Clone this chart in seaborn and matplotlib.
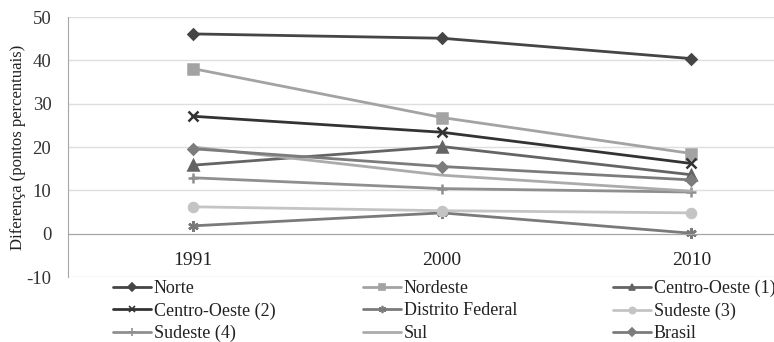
import matplotlib
matplotlib.use("Agg")
import matplotlib.pyplot as plt
from matplotlib.lines import Line2D
import seaborn as sns
import numpy as np

# Anos e diferenças (pontos percentuais) por região
anos = ["1991", "2000", "2010"]
norte = [46.1, 45.1, 40.4]
nordeste = [38.1, 26.8, 18.5]
centro_oeste_1 = [15.8, 20.1, 13.6]
centro_oeste_2 = [27.1, 23.4, 16.2]
distrito_federal = [1.8, 4.8, 0.1]
sudeste_3 = [6.2, 5.3, 4.8]
sudeste_4 = [12.9, 10.4, 9.6]
sul = [20.0, 13.5, 9.8]
brasil = [19.6, 15.5, 12.4]

series = [
    ("Norte", norte, "#454545", "D", 5.5),
    ("Nordeste", nordeste, "#a3a3a3", "s", 6.5),
    ("Centro-Oeste (1)", centro_oeste_1, "#646464", "^", 6.5),
    ("Centro-Oeste (2)", centro_oeste_2, "#333333", "x", 6.5),
    ("Distrito Federal", distrito_federal, "#7a7a7a", (6, 2, 0), 7.5),
    ("Sudeste (3)", sudeste_3, "#c4c4c4", "o", 6.5),
    ("Sudeste (4)", sudeste_4, "#8f8f8f", "+", 7.5),
    ("Sul", sul, "#ababab", None, 0),
    ("Brasil", brasil, "#7c7c7c", "D", 5.5),
]

sns.set_style("white")
plt.rcParams["font.family"] = ["Liberation Serif", "DejaVu Serif"]
plt.rcParams["axes.unicode_minus"] = False

W, H = 774, 342
fig = plt.figure(figsize=(W / 100, H / 100), dpi=100)
left, right, top, bottom = 68, 816, 17, 277
ax = fig.add_axes([left / W, 1 - bottom / H, (right - left) / W, (bottom - top) / H])

x = np.arange(len(anos))
for nome, vals, cor, mk, ms in series:
    kw = {}
    if mk is not None:
        kw = dict(marker=mk, markersize=ms, markeredgewidth=1.8,
                  markeredgecolor=cor, markerfacecolor=cor)
    sns.lineplot(x=x, y=vals, ax=ax, color=cor, linewidth=2.0, legend=False, **kw)

ax.set_xlim(-0.5, 2.5)
ax.set_ylim(-10, 50)
ax.set_yticks(np.arange(-10, 51, 10))
ax.yaxis.grid(True, color="#dedede", linewidth=1.0)
ax.set_axisbelow(True)

# eixo de categorias cruzando em zero
ax.spines["bottom"].set_position(("data", 0))
ax.spines["bottom"].set_color("#a6a6a6")
ax.spines["left"].set_color("#a6a6a6")
ax.spines["top"].set_visible(False)
ax.spines["right"].set_visible(False)
ax.set_xticks(x)
ax.set_xticklabels(anos)
ax.set_xticks([-0.5, 0.5, 1.5, 2.5], minor=True)
ax.tick_params(axis="x", which="major", length=0, pad=13, labelsize=14, colors="#222222")
ax.tick_params(axis="x", which="minor", length=5, direction="out", color="#a6a6a6")
ax.tick_params(axis="y", length=4, direction="out", color="#a6a6a6", labelsize=13.5,
               colors="#333333", pad=8)

ax.set_ylabel("Diferença (pontos percentuais)", fontsize=12, color="#222222")
ax.yaxis.set_label_coords((26 - left) / (right - left), 0.5)

# legenda em três colunas abaixo do gráfico
handles = []
for nome, vals, cor, mk, ms in series:
    handles.append(Line2D([0], [0], color=cor, linewidth=2.0, marker=mk if mk else None,
                          markersize=ms * 0.7, markeredgewidth=1.2,
                          markeredgecolor=cor, markerfacecolor=cor, label=nome))
col_x = [113, 363, 613]
for c in range(3):
    hs = handles[c::3]
    leg = fig.legend(handles=hs, loc="upper left",
                     bbox_to_anchor=(col_x[c] / W, 1 - 280 / H),
                     frameon=False, fontsize=13, handlelength=2.1, handletextpad=0.15,
                     labelspacing=0.3, borderpad=0.0, borderaxespad=0.0)
    for t in leg.get_texts():
        t.set_color("#222222")

fig.savefig("out.png", dpi=100)
